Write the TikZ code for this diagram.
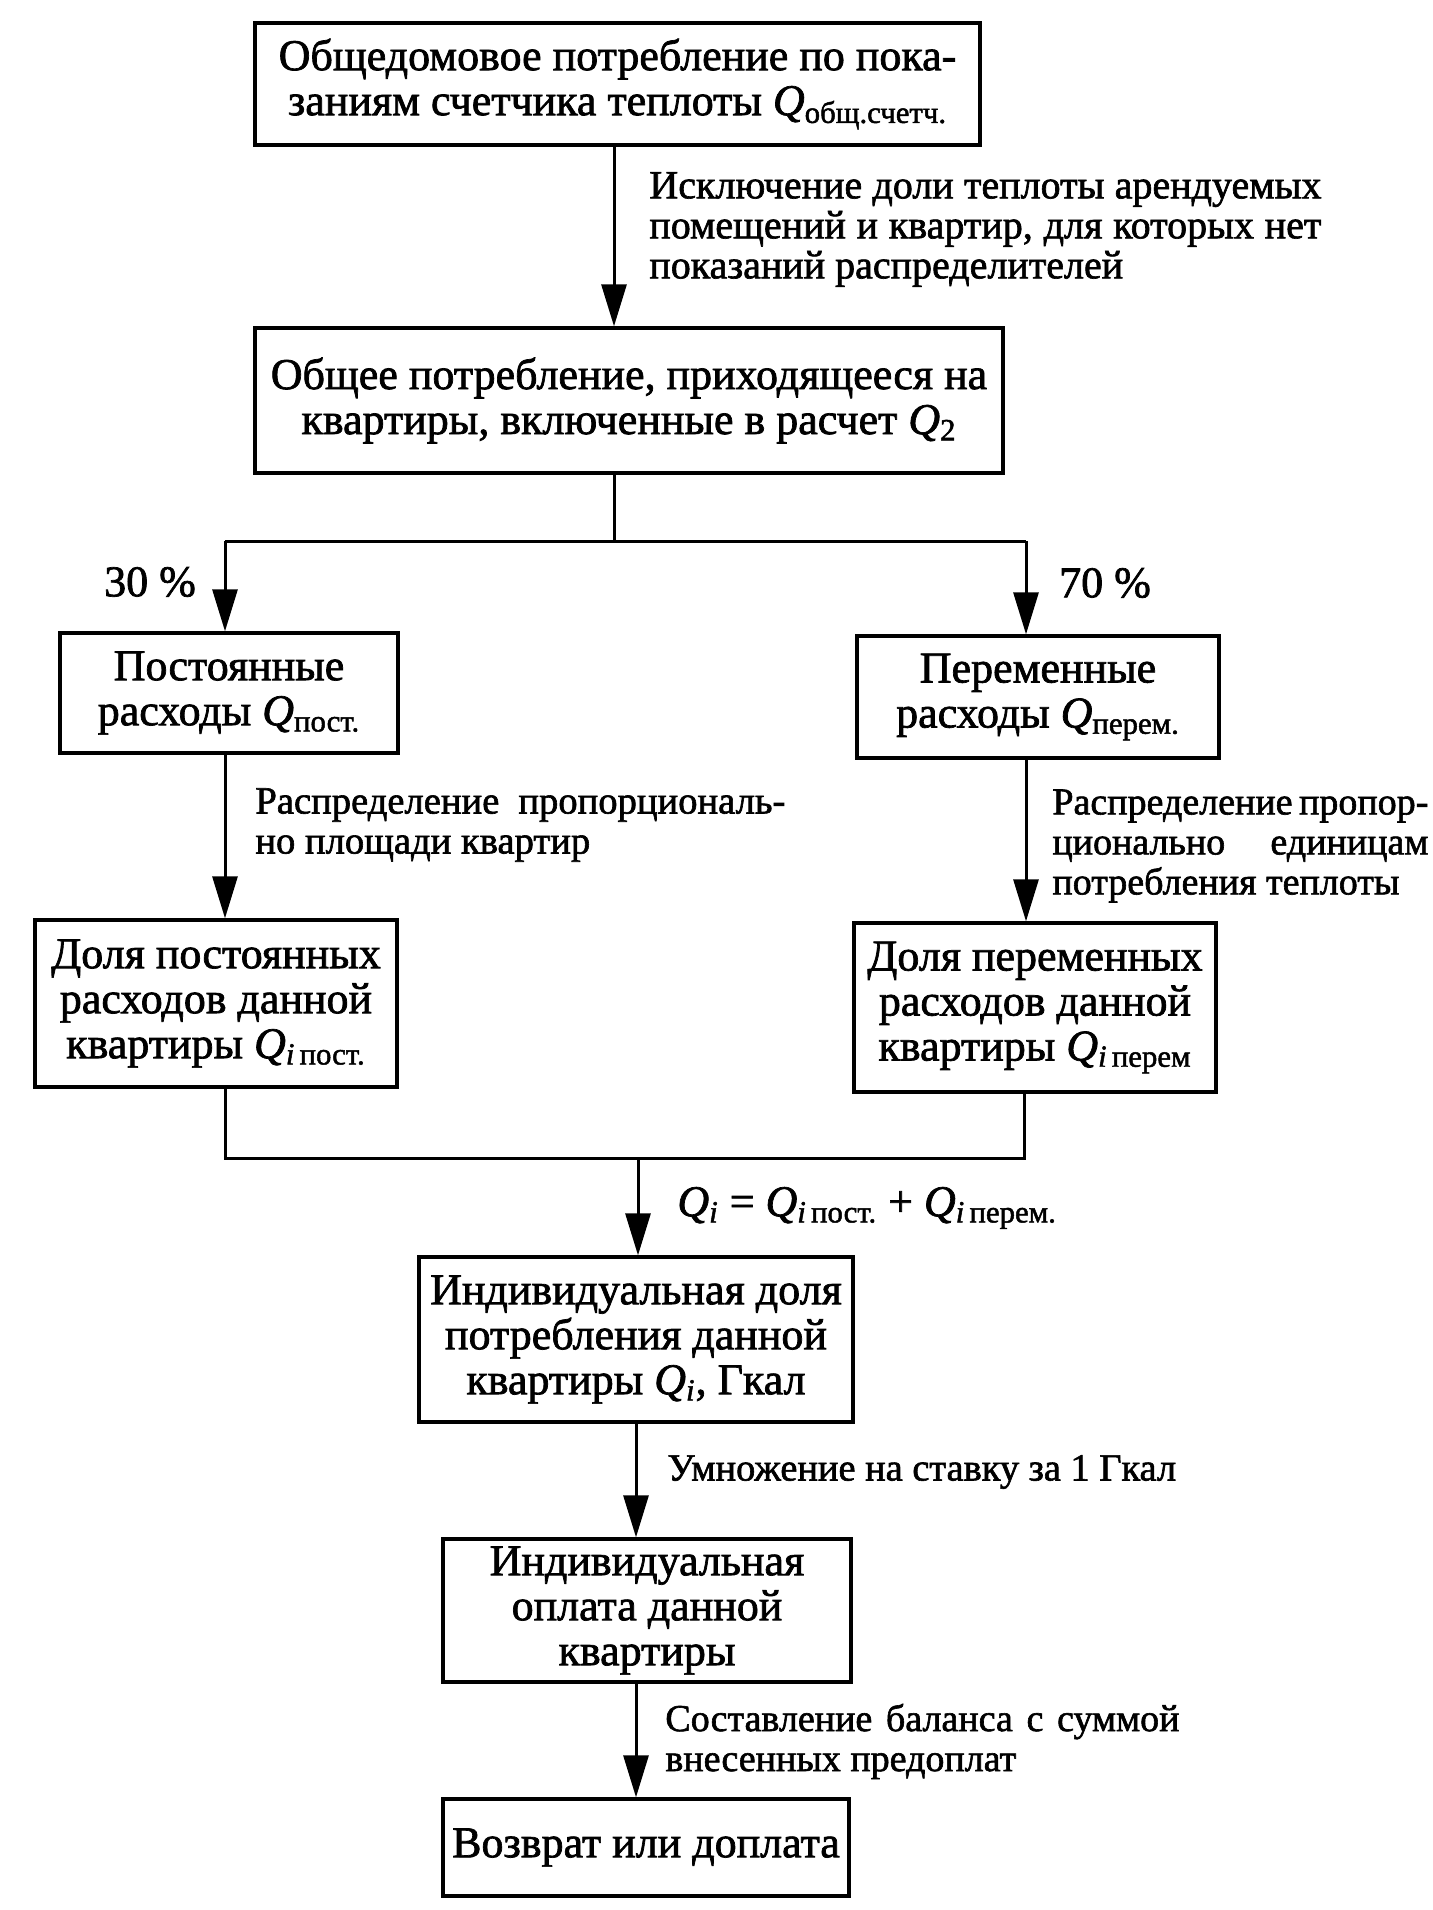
\documentclass[tikz,border=0pt]{standalone}
\usepackage{fontspec}
\setmainfont{Liberation Serif}[FakeBold=1.6]
\usetikzlibrary{arrows.meta}
\newcommand{\QQ}[1]{\textit{Q}\textsubscript{#1}}
\begin{document}
\begin{tikzpicture}[x=0.5pt,y=-0.5pt,
  box/.style={draw, line width=1.7pt, inner sep=0pt, align=center, font=\fontsize{22}{22.5}\selectfont},
  lbl/.style={inner sep=0pt, align=left, anchor=west, font=\fontsize{20}{20}\selectfont},
  pct/.style={inner sep=0pt, font=\fontsize{22}{22}\selectfont},
  link/.style={line width=1.5pt},
  arr/.style={link, -{Triangle[length=21pt,width=12.5pt]}}]
\useasboundingbox (0,0) rectangle (1432,1910);

\node[box, minimum width=362.5pt, minimum height=61pt] (top) at (617.5,84)
  {Общедомовое потребление по пока-\\заниям счетчика теплоты \QQ{общ.счетч.}};
\node[box, minimum width=374pt, minimum height=72.5pt] (b2) at (629,400.5)
  {Общее потребление, приходящееся на\\квартиры, включенные в расчет \QQ{2}};
\node[box, minimum width=169pt, minimum height=60pt] (A) at (229,693)
  {Постоянные\\расходы \QQ{пост.}};
\node[box, minimum width=181pt, minimum height=61pt] (B) at (1038,697)
  {Переменные\\расходы \QQ{перем.}};
\node[box, minimum width=181pt, minimum height=83.5pt] (C) at (216,1003.5)
  {Доля постоянных\\расходов данной\\квартиры \QQ{\textit{i}\,пост.}};
\node[box, minimum width=181pt, minimum height=84.5pt] (D) at (1035,1007.5)
  {Доля переменных\\расходов данной\\квартиры \QQ{\textit{i}\,перем}};
\node[box, minimum width=217pt, minimum height=82.5pt] (E) at (636,1339.5)
  {Индивидуальная доля\\потребления данной\\квартиры \QQ{\textit{i}}, Гкал};
\node[box, minimum width=204pt, minimum height=71.5pt] (F) at (647,1610.5)
  {Индивидуальная\\оплата данной\\квартиры};
\node[box, minimum width=203pt, minimum height=48.5pt] (G) at (646,1847.5)
  {Возврат или доплата};

\node[lbl] (l1) at (649,229.5) {\makebox[336pt][s]{Исключение доли теплоты арендуемых}\\
  \makebox[336pt][s]{помещений и квартир, для которых нет}\\показаний распределителей};
\node[pct] (p30) at (150,582) {30 \%};
\node[pct] (p70) at (1105,583) {70 \%};
\node[lbl, font=\fontsize{19.3}{20}\selectfont] (l2) at (255,825) {\makebox[265pt][s]{Распределение пропорциональ-}\\но площади квартир};
\node[lbl, font=\fontsize{19}{20}\selectfont] (l3) at (1052,846) {\makebox[188pt][s]{Распределение пропор-}\\
  \makebox[188pt][s]{ционально единицам}\\потребления теплоты};
\node[lbl, font=\fontsize{22}{22}\selectfont] (l4) at (677,1208)
  {\QQ{\textit{i}} = \QQ{\textit{i}\,пост.} + \QQ{\textit{i}\,перем.}};
\node[lbl, font=\fontsize{19.2}{20}\selectfont] (l5) at (667,1472) {Умножение на ставку за 1 Гкал};
\node[lbl, font=\fontsize{19}{20}\selectfont] (l6) at (665,1741.5) {\makebox[257pt][s]{Составление баланса с суммой}\\внесенных предоплат};

\coordinate (x1) at (614,0);
\coordinate (sp) at (614,541);
\coordinate (spL) at (225,541);
\coordinate (spR) at (1026,541);
\coordinate (mL) at (225,1158);
\coordinate (mR) at (1024,1158);
\coordinate (mC) at (638,1158);
\coordinate (c2) at (636,0);

\draw[arr] (top.south -| x1) -- (b2.north -| x1);
\draw[link] (b2.south -| sp) -- (sp);
\draw[link] (spL) -- (spR);
\draw[arr] (spL) -- (A.north -| spL);
\draw[arr] (spR) -- (B.north -| spR);
\draw[arr] (A.south -| spL) -- (C.north -| spL);
\draw[arr] (B.south -| spR) -- (D.north -| spR);
\draw[link] (C.south -| mL) -- (mL) -- (mR) -- (D.south -| mR);
\draw[arr] (mC) -- (E.north -| mC);
\draw[arr] (E.south -| c2) -- (F.north -| c2);
\draw[arr] (F.south -| c2) -- (G.north -| c2);
\end{tikzpicture}
\end{document}
